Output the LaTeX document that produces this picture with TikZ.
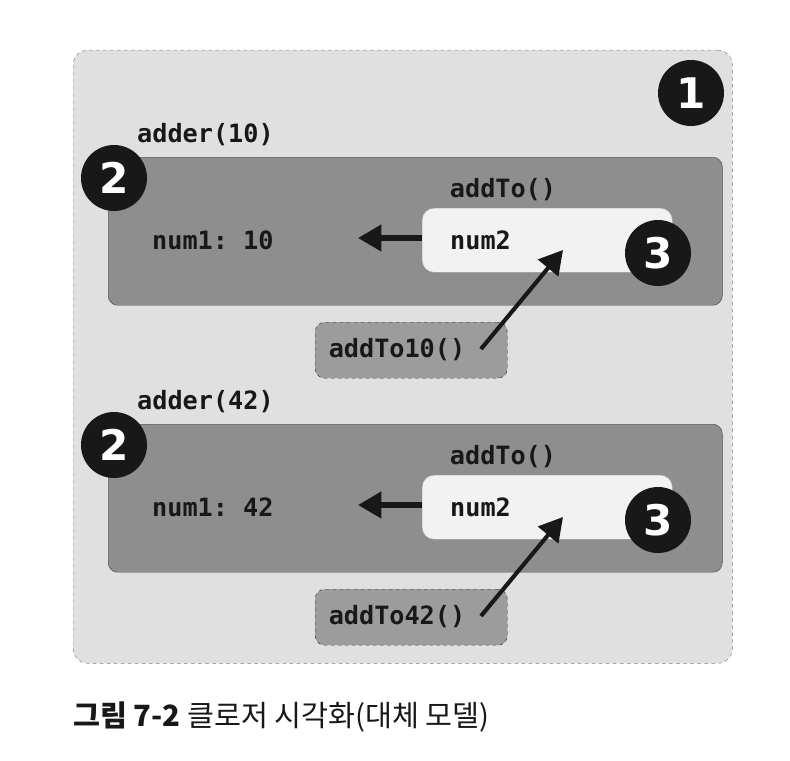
\documentclass[tikz,border=0pt]{standalone}
\usepackage{fontspec}
\setmainfont{DejaVu Sans}
\setmonofont{DejaVu Sans Mono}
\newfontfamily\hangul{Noto Sans CJK KR}
\usetikzlibrary{positioning, arrows.meta}
\definecolor{outerfill}{RGB}{224,224,224}
\definecolor{scopefill}{RGB}{142,142,142}
\definecolor{callfill}{RGB}{156,156,156}
\definecolor{innerfill}{RGB}{242,242,242}
\definecolor{ink}{RGB}{24,24,24}
\tikzset{x=0.03cm, y=-0.03cm, % one unit is one pixel of the reference
frame/.style={ % Outer dashed area
draw=gray, dashed, fill=outerfill, rounded corners=12pt, anchor=north west},
scopebox/.style={ % Scope of adder()
draw=gray!60!black, fill=scopefill, rounded corners=8pt, anchor=north west},
innerbox/.style={ % Scope of addTo()
draw=gray!60, fill=innerfill, rounded corners=10pt, anchor=north west},
callbox/.style={ % Returned function
draw=gray!40!black, dashed, fill=callfill, rounded corners=8pt, anchor=north west},
badge/.style={ % Numbered black circles
circle, fill=ink, text=white, minimum size=1.98cm, inner sep=0pt,
font=\fontsize{36pt}{42pt}\selectfont\bfseries},
code/.style={ % Code labels
text=ink, inner sep=0pt, font=\fontsize{21.5pt}{25pt}\selectfont\ttfamily\bfseries},
flow/.style={ % Thick arrows
draw=ink, line width=4.5pt, -{Triangle[length=20pt,width=22pt]}}}
\begin{document}
\begin{tikzpicture}

    \useasboundingbox (0,0) rectangle (790,760);

    \node[frame, minimum width=19.77cm, minimum height=18.39cm] (outer) at (73,50) {};
    \node[badge] (b1) at (691,93) {1};

    % first call
    \node[code, anchor=west] (adderA) at (137,135) {adder(10)};
    \node[scopebox, minimum width=18.42cm, minimum height=4.44cm] (scopeA) at (108,157) {};
    \node[code] (addToA) at (503,190) {addTo()};
    \node[innerbox, minimum width=7.5cm, minimum height=1.92cm] (innerA) at (422,208) {};
    \node[code, anchor=west] (numA) at (152,240) {num1: 10};
    \node[code, anchor=west] (numTwoA) at (450,240) {num2};
    \node[callbox, minimum width=5.76cm, minimum height=1.68cm] (callA) at (315,322) {};
    \node[code] (callTextA) at (397,350) {addTo10()};
    \node[badge] (b2A) at (114,178) {2};
    \node[badge] (b3A) at (658,253) {3};
    \coordinate (tipA) at (358,238);
    \coordinate (fromA) at (481,349);
    \coordinate (toA) at (563,250);
    \draw[flow] (innerA.west |- tipA) -- (tipA);
    \draw[flow, line width=3.5pt] (fromA) -- (toA);

    % second call
    \node[code, anchor=west] (adderB) at (137,402) {adder(42)};
    \node[scopebox, minimum width=18.42cm, minimum height=4.44cm] (scopeB) at (108,424) {};
    \node[code] (addToB) at (503,457) {addTo()};
    \node[innerbox, minimum width=7.5cm, minimum height=1.92cm] (innerB) at (422,475) {};
    \node[code, anchor=west] (numB) at (152,507) {num1: 42};
    \node[code, anchor=west] (numTwoB) at (450,507) {num2};
    \node[callbox, minimum width=5.76cm, minimum height=1.68cm] (callB) at (315,589) {};
    \node[code] (callTextB) at (397,617) {addTo42()};
    \node[badge] (b2B) at (114,445) {2};
    \node[badge] (b3B) at (658,520) {3};
    \coordinate (tipB) at (358,505);
    \coordinate (fromB) at (481,616);
    \coordinate (toB) at (563,517);
    \draw[flow] (innerB.west |- tipB) -- (tipB);
    \draw[flow, line width=3.5pt] (fromB) -- (toB);

    % caption
    \node[anchor=west, inner sep=0pt, text=ink, font=\fontsize{25pt}{29pt}\selectfont\hangul] (caption) at (73,717)
        {{\bfseries 그림 7-2} 클로저 시각화(대체 모델)};

\end{tikzpicture}
\end{document}
